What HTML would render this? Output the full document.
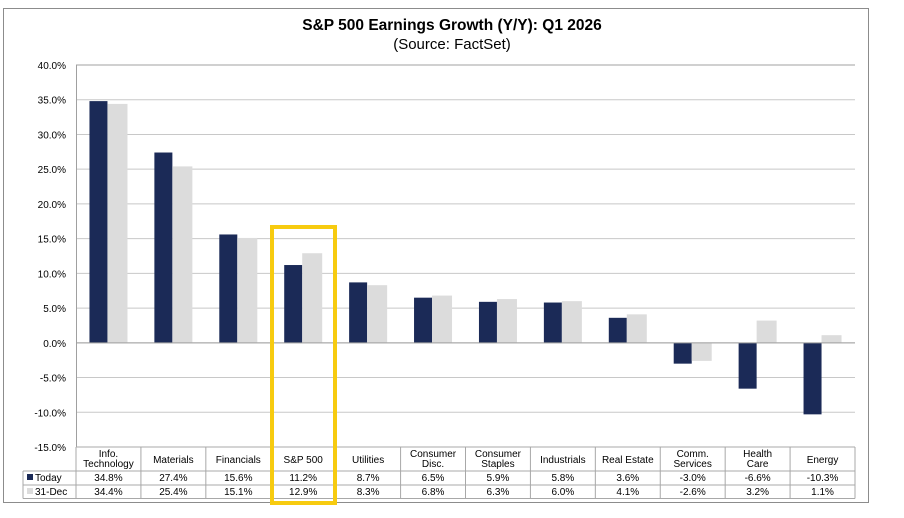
<!DOCTYPE html>
<html><head><meta charset="utf-8"><style>
body{margin:0;background:#fff;width:904px;height:513px;overflow:hidden;font-family:"Liberation Sans",Arial,sans-serif}
</style></head><body>
<svg id="c" width="904" height="513" xmlns="http://www.w3.org/2000/svg" font-family="Liberation Sans, Arial, sans-serif">
<rect x="3.5" y="8.5" width="865" height="494" fill="#fff" stroke="#8c8c8c"/>
<text x="452" y="30" text-anchor="middle" font-size="15.5" font-weight="bold">S&amp;P 500 Earnings Growth (Y/Y): Q1 2026</text>
<text x="452" y="49" text-anchor="middle" font-size="15">(Source: FactSet)</text>
<g id="grid"></g><g id="bars"></g><g id="table"></g>
<rect x="272" y="227" width="63" height="276" fill="none" stroke="#f7cb0f" stroke-width="4"/>
</svg>
<script>
const categories=[["Info.","Technology"],["Materials"],["Financials"],["S&P 500"],["Utilities"],["Consumer","Disc."],["Consumer","Staples"],["Industrials"],["Real Estate"],["Comm.","Services"],["Health","Care"],["Energy"]];
const today=[34.8,27.4,15.6,11.2,8.7,6.5,5.9,5.8,3.6,-3.0,-6.6,-10.3];
const dec31=[34.4,25.4,15.1,12.9,8.3,6.8,6.3,6.0,4.1,-2.6,3.2,1.1];
const ticks=[40,35,30,25,20,15,10,5,0,-5,-10,-15];
const NS="http://www.w3.org/2000/svg";
const L=76,R=855,T=65,B=447,ymax=40,ymin=-15;
const y=v=>T+(ymax-v)/(ymax-ymin)*(B-T);
const cw=(R-L)/categories.length;
const x=i=>L+i*cw;
function mk(tag,a,p){const e=document.createElementNS(NS,tag);for(const k in a)e.setAttribute(k,a[k]);p.appendChild(e);return e;}
const grid=document.getElementById('grid'),bars=document.getElementById('bars'),tb=document.getElementById('table');
ticks.forEach((t,i)=>{
  if(t!==ymin){const g=mk('line',{x1:L,x2:R,y1:y(t),y2:y(t),stroke:i==0?'#a0a0a0':'#c8c8c8','stroke-width':1},grid);
  
  }
  const tx=mk('text',{x:66,y:y(t)+4,'text-anchor':'end','font-size':10},grid);tx.textContent=t.toFixed(1)+'%';
  
  
});
const ax=mk('line',{x1:L+.5,x2:L+.5,y1:T,y2:B,stroke:'#a0a0a0'},grid);


const bw=18;
categories.forEach((c,i)=>{
  const cx=x(i)+cw/2;
  const r1=mk('rect',{x:cx-bw-1,y:Math.min(y(today[i]),y(0)),width:bw,height:Math.abs(y(today[i])-y(0)),fill:'#1b2a57'},bars);
  
  
  const r2=mk('rect',{x:cx-1,y:Math.min(y(dec31[i]),y(0)),width:bw+2,height:Math.abs(y(dec31[i])-y(0)),fill:'#dcdcdc'},bars);
  
  
  c.forEach((ln,j)=>{const t=mk('text',{x:cx,y:(c.length==1?463:457)+j*10,'text-anchor':'middle','font-size':10},tb);t.textContent=ln;
    
    });
  [[today,481],[dec31,495]].forEach(([arr,yy])=>{const t=mk('text',{x:cx,y:yy,'text-anchor':'middle','font-size':10},tb);t.textContent=arr[i].toFixed(1)+'%';
    
    });
});
const zl=mk('line',{x1:L,x2:R,y1:y(0),y2:y(0),stroke:'#a0a0a0'},bars);


// table lines
const st='#a8a8a8';
[[L,R,447,447],[23,R,471,471],[23,R,485,485],[23,R,498.5,498.5],[23,23,471,498.5]].forEach(a=>mk('line',{x1:a[0],x2:a[1],y1:a[2],y2:a[3],stroke:st},tb));
for(let i=0;i<=categories.length;i++)mk('line',{x1:x(i),x2:x(i),y1:447,y2:498.5,stroke:st},tb);
mk('rect',{x:27,y:474,width:6,height:6,fill:'#1b2a57'},tb);
mk('rect',{x:27,y:488,width:6,height:6,fill:'#dcdcdc'},tb);
const l1=mk('text',{x:35,y:481,'font-size':10},tb);l1.textContent='Today';


const l2=mk('text',{x:35,y:495,'font-size':10},tb);l2.textContent='31-Dec';


</script>
</body></html>
